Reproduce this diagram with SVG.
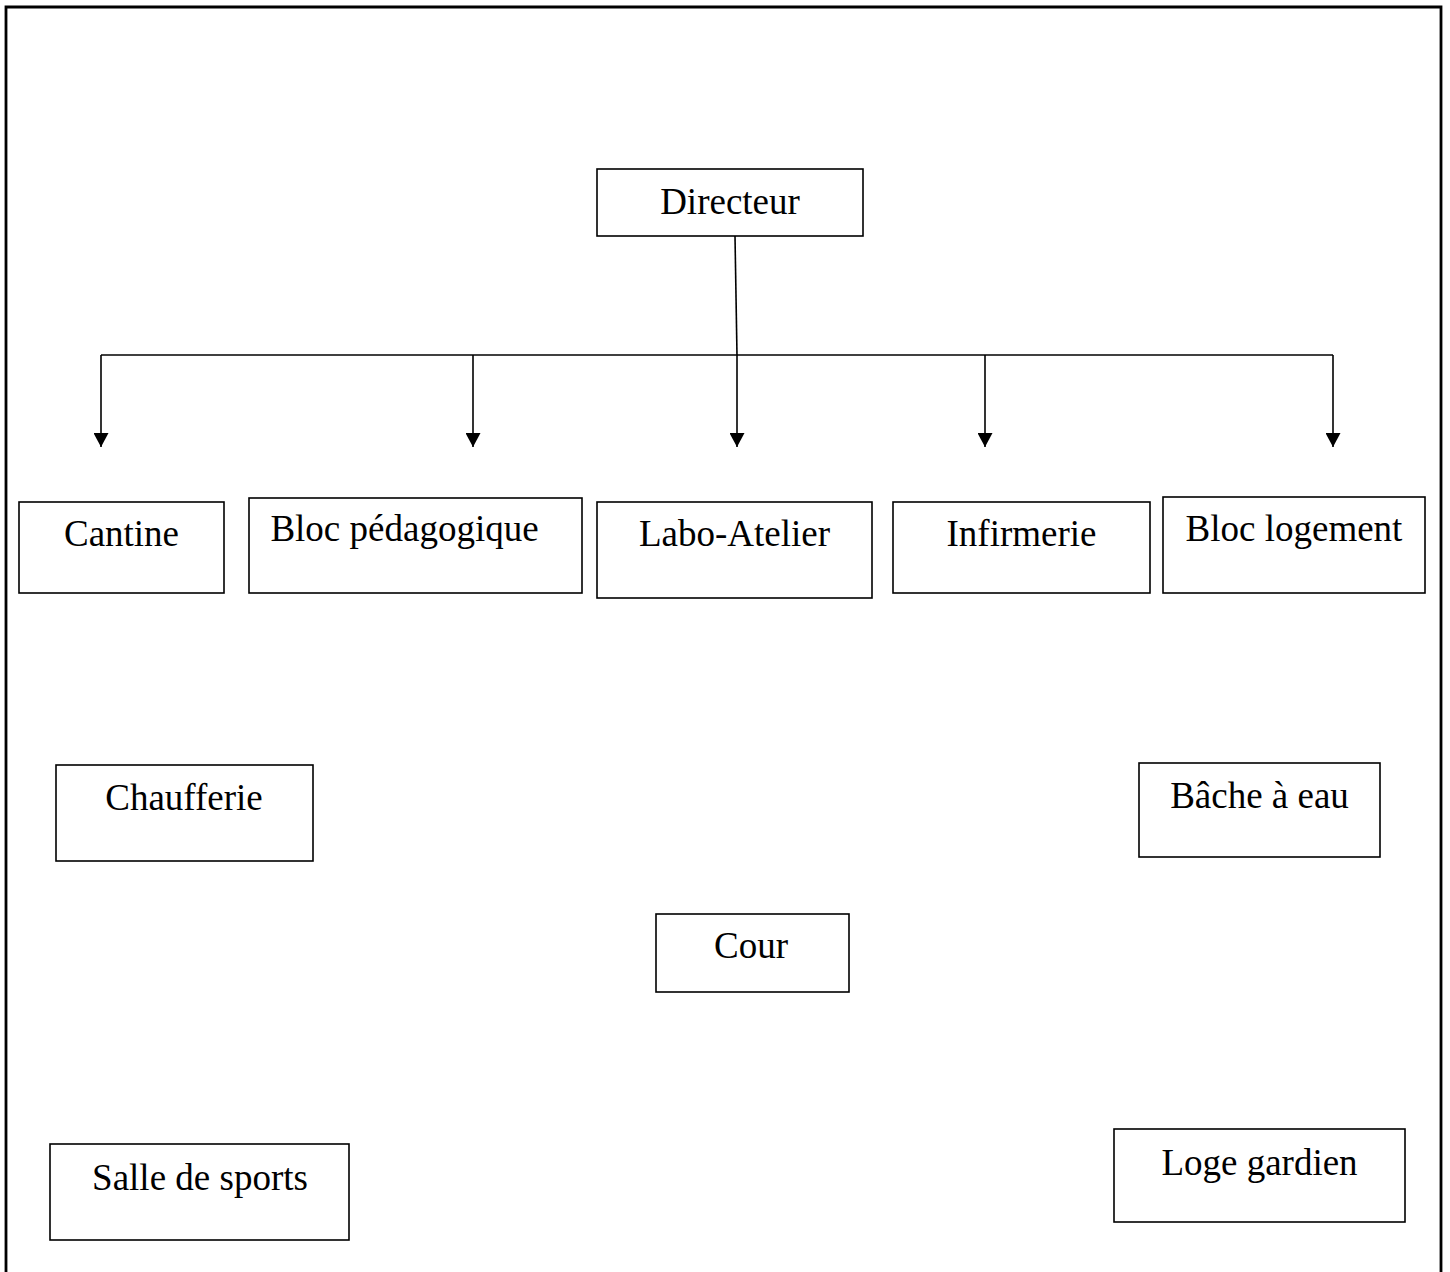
<svg xmlns="http://www.w3.org/2000/svg" width="1450" height="1272" viewBox="0 0 1450 1272">
<style>
.box{fill:#fff;stroke:#000;stroke-width:1.6}
.lbl{font-family:"Liberation Serif","Times New Roman",serif;font-size:37px;fill:#000;text-anchor:middle}
.conn{fill:none;stroke:#000;stroke-width:1.6}
.frame{fill:none;stroke:#000;stroke-width:2.8}
</style>
<defs>
<marker id="arr" markerWidth="16" markerHeight="15" refX="15" refY="8" orient="auto" markerUnits="userSpaceOnUse" viewBox="0 0 15 16">
<path d="M0,0 L15,8 L0,16 Z" fill="#000"/>
</marker>
</defs>
<rect width="1450" height="1272" fill="#fff"/>
<path class="frame" d="M6,1274 L6,7 L1441,7 L1441,1274"/>
<g id="connectors">
<path class="conn" d="M735,236 L737,355"/>
<path class="conn" d="M101,355 L1333,355"/>
<path class="conn" d="M101,355 L101,447" marker-end="url(#arr)"/>
<path class="conn" d="M473,355 L473,447" marker-end="url(#arr)"/>
<path class="conn" d="M737,355 L737,447" marker-end="url(#arr)"/>
<path class="conn" d="M985,355 L985,447" marker-end="url(#arr)"/>
<path class="conn" d="M1333,355 L1333,447" marker-end="url(#arr)"/>
</g>
<g id="directeur"><rect class="box" x="597" y="169" width="266" height="67"/><text class="lbl" x="730" y="214">Directeur</text></g>
<g id="cantine"><rect class="box" x="19" y="502" width="205" height="91"/><text class="lbl" x="121.5" y="546">Cantine</text></g>
<g id="bloc-pedagogique"><rect class="box" x="249" y="498" width="333" height="95"/><text class="lbl" x="404.5" y="541">Bloc pédagogique</text></g>
<g id="labo-atelier"><rect class="box" x="597" y="502" width="275" height="96"/><text class="lbl" x="734.5" y="546">Labo-Atelier</text></g>
<g id="infirmerie"><rect class="box" x="893" y="502" width="257" height="91"/><text class="lbl" x="1021.5" y="546">Infirmerie</text></g>
<g id="bloc-logement"><rect class="box" x="1163" y="497" width="262" height="96"/><text class="lbl" x="1294" y="541">Bloc logement</text></g>
<g id="chaufferie"><rect class="box" x="56" y="765" width="257" height="96"/><text class="lbl" x="184" y="810">Chaufferie</text></g>
<g id="bache-a-eau"><rect class="box" x="1139" y="763" width="241" height="94"/><text class="lbl" x="1259.5" y="808">Bâche à eau</text></g>
<g id="cour"><rect class="box" x="656" y="914" width="193" height="78"/><text class="lbl" x="751" y="958">Cour</text></g>
<g id="salle-de-sports"><rect class="box" x="50" y="1144" width="299" height="96"/><text class="lbl" x="200" y="1190">Salle de sports</text></g>
<g id="loge-gardien"><rect class="box" x="1114" y="1129" width="291" height="93"/><text class="lbl" x="1259.5" y="1175">Loge gardien</text></g>
</svg>
